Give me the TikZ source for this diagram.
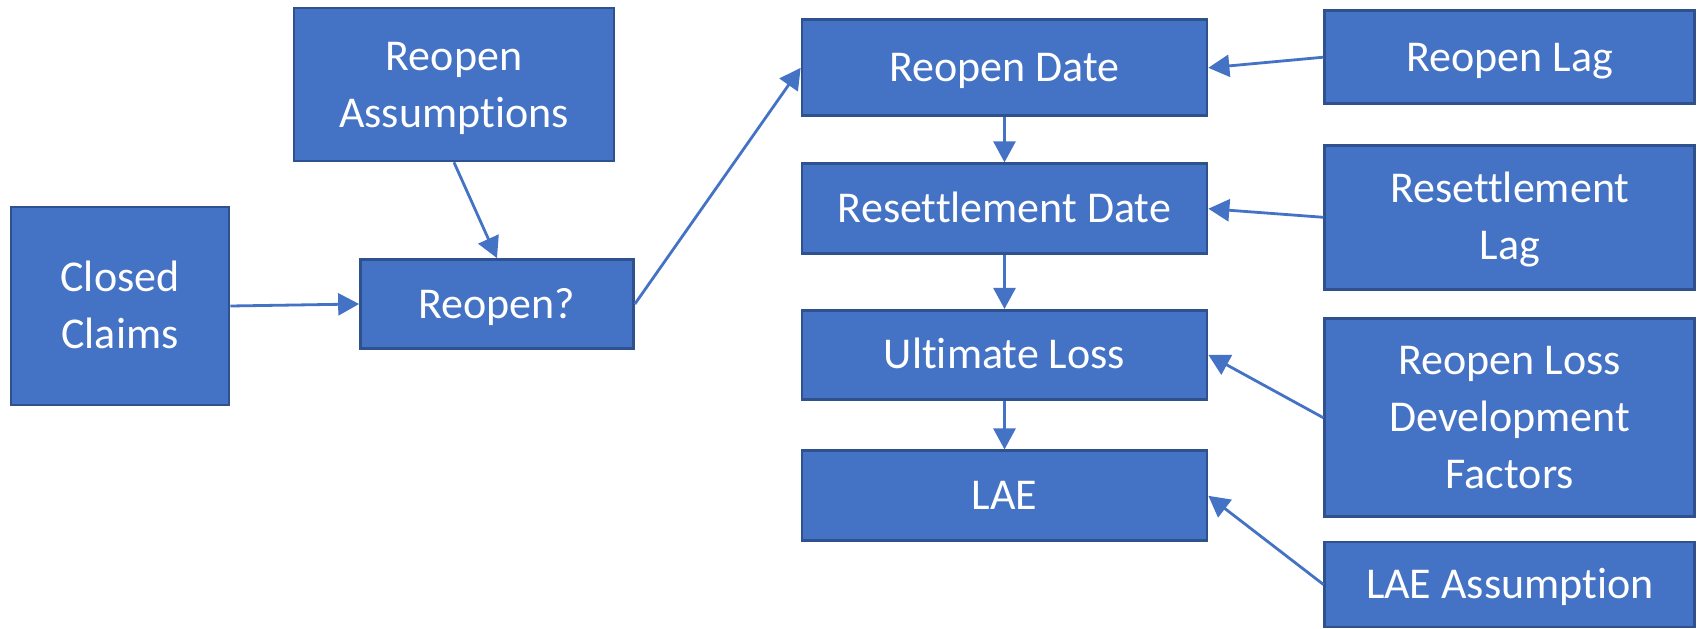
\documentclass[tikz,border=0pt]{standalone}
\usepackage{fontspec}
\setmainfont{Carlito}[Ligatures={NoCommon}]
\usetikzlibrary{arrows.meta}
\definecolor{boxfill}{HTML}{4472C4}
\definecolor{boxline}{HTML}{2F528F}
% fixed line box so that every text line is centred on its cap height
\newcommand\lnstrut{\vrule width 0pt height 42.5pt depth 14.5pt}
\begin{document}
\begin{tikzpicture}[x=1pt,y=-1pt,
  blk/.style={draw=boxline, fill=boxfill, line width=2.7pt, inner sep=0pt,
    text=white, align=center, font=\fontsize{44}{57}\selectfont},
  link/.style={draw=boxfill, line width=2.8pt,
    -{Triangle[length=21pt,width=22pt]}}]
\fill[white] (0,0) rectangle (1698,629);
\useasboundingbox (0,0) rectangle (1698,629);

% left part
\node[blk, minimum width=218pt, minimum height=198pt] (cc) at (120,306) {Closed\lnstrut\\Claims\lnstrut};
\node[blk, minimum width=320pt, minimum height=153pt] (ra) at (454,84.5) {Reopen\lnstrut\\Assumptions\lnstrut};
\node[blk, minimum width=273pt, minimum height=89pt] (ro) at (497,304) {Reopen?\lnstrut};

% middle column
\node[blk, minimum width=405pt, minimum height=96pt] (rd) at (1004.5,67.8) {Reopen Date\lnstrut};
\node[blk, minimum width=405pt, minimum height=90pt] (sd) at (1004.5,208.7) {Resettlement Date\lnstrut};
\node[blk, minimum width=405pt, minimum height=89pt] (ul) at (1004.5,354.8) {Ultimate Loss\lnstrut};
\node[blk, minimum width=405pt, minimum height=90pt] (lae) at (1004.5,495.8) {LAE\lnstrut};

% right column
\node[blk, minimum width=370pt, minimum height=93pt] (rl) at (1509.8,57.2) {Reopen Lag\lnstrut};
\node[blk, minimum width=370pt, minimum height=144pt] (sl) at (1509.8,217.3) {Resettlement\lnstrut\\Lag\lnstrut};
\node[blk, minimum width=370pt, minimum height=198pt] (rf) at (1509.8,417.8) {Reopen Loss\lnstrut\\Development\lnstrut\\Factors\lnstrut};
\node[blk, minimum width=370pt, minimum height=85pt] (la) at (1509.8,584.5) {LAE Assumption\lnstrut};

% connectors
\draw[link] (cc.east) -- (ro.west);
\draw[link] (ra.south) -- (ro.north);
\draw[link] (ro.east) -- (rd.west);
\draw[link] (rd.south) -- (sd.north);
\draw[link] (sd.south) -- (ul.north);
\draw[link] (ul.south) -- (lae.north);
\draw[link] (rl.west) -- (rd.east);
\draw[link] (sl.west) -- (sd.east);
\draw[link] (rf.west) -- (ul.east);
\draw[link] (la.west) -- (lae.east);
\end{tikzpicture}
\end{document}
